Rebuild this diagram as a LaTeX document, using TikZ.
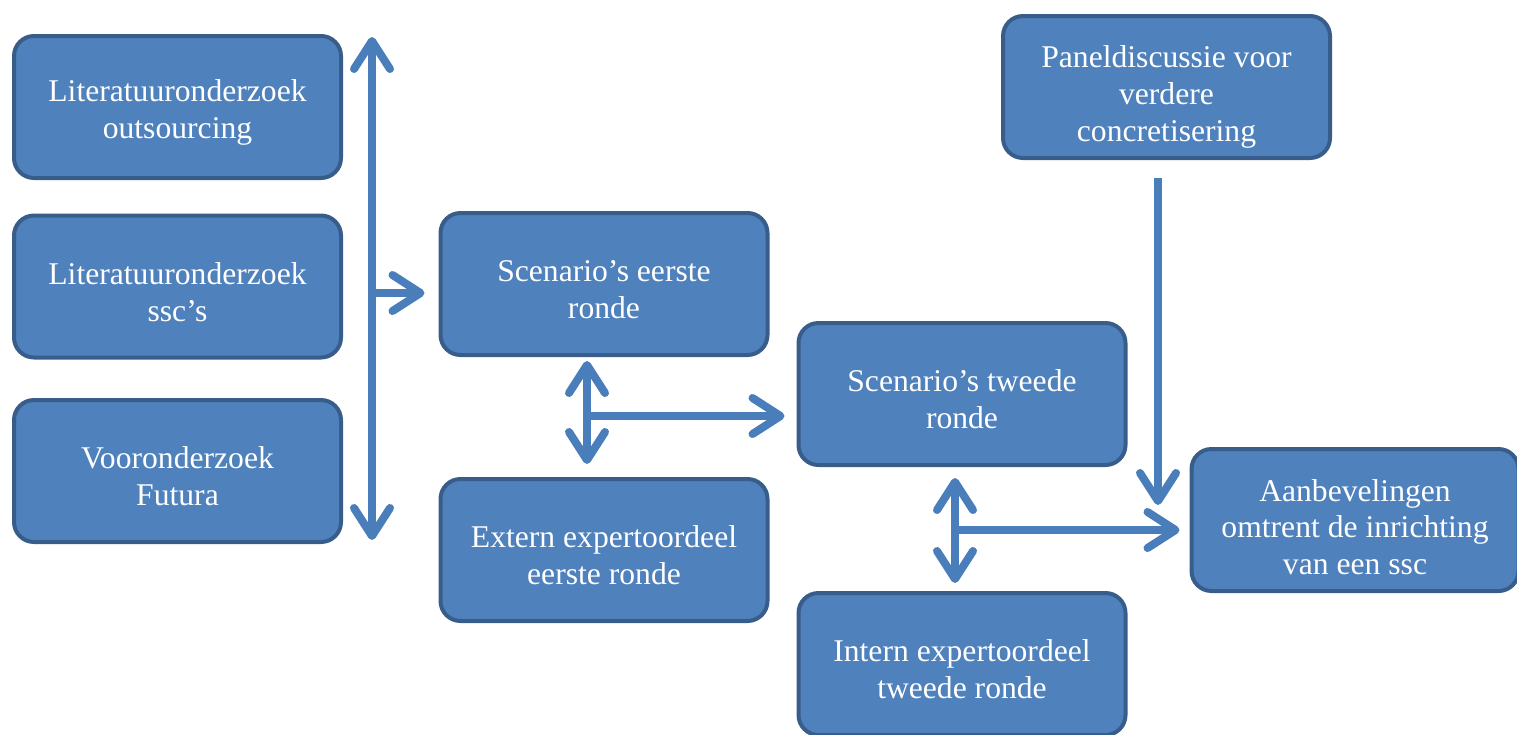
\documentclass[tikz,border=0pt]{standalone}
\usepackage{fontspec}
\setmainfont{Liberation Serif}
\usetikzlibrary{arrows.meta,positioning,calc}
\definecolor{boxblue}{HTML}{4F81BD}
\definecolor{boxedge}{HTML}{385D8A}
\definecolor{arrblue}{HTML}{4A7EBB}

\begin{document}
\begin{tikzpicture}[every node/.style={font=\fontsize{18}{21}\selectfont},
  textdrop/.style={execute at begin node={\rule{0pt}{#1}}},
  stage/.style={rectangle,rounded corners=0.4cm,fill=boxblue,draw=boxedge,line width=0.08cm,
    text=white,align=center,minimum width=6.54cm,minimum height=2.84cm,inner sep=2pt,textdrop=1.39cm},
  tip/.tip={Straight Barb[length=0.56cm,width=0.72cm,line cap=round,line join=round]},
  arr/.style={draw=arrblue,line width=0.16cm,-{tip}},
  arrs/.style={draw=arrblue,line width=0.16cm,{tip}-{tip}}]
\useasboundingbox (0,0) rectangle (30.34,-14.68);
% sources on the left
\node[stage] (lit1) at (3.55,-2.14) {Literatuuronderzoek\\outsourcing};
\node[stage] (lit2) at (3.55,-5.73) {Literatuuronderzoek\\ssc’s};
\node[stage] (voor) at (3.55,-9.42) {Vooronderzoek\\Futura};
% first and second round
\node[stage] (sc1) at (12.08,-5.68) {Scenario’s eerste\\ronde};
\node[stage] (ext) at (12.08,-11.0) {Extern expertoordeel\\eerste ronde};
\node[stage] (sc2) at (19.24,-7.88) {Scenario’s tweede\\ronde};
\node[stage] (int) at (19.24,-13.28) {Intern expertoordeel\\tweede ronde};
\node[stage,textdrop=2.32cm] (panel) at (23.33,-1.74) {Paneldiscussie voor\\verdere\\concretisering};
\node[stage,textdrop=2.2cm] (adv) at (27.1,-10.4) {Aanbevelingen\\omtrent de inrichting\\van een ssc};
% connectors
\coordinate (top) at (7.44,-0.74); \coordinate (bot) at (7.44,-10.8);
\coordinate (mid) at (7.44,-5.86);
\draw[arrs] (top) -- (bot);
\draw[arr,shorten >=0.28cm] (mid) -- (mid -| sc1.west);
\coordinate (j1) at (11.74,-8.32); \coordinate (j2) at (19.1,-10.6);
\draw[arrs,shorten <=0.08cm,shorten >=0.26cm] (j1 |- sc1.south) -- (j1 |- ext.north);
\draw[arr,shorten >=0.24cm] (j1) -- (j1 -| sc2.west);
\draw[arrs,shorten <=0.22cm,shorten >=0.16cm] (j2 |- sc2.south) -- (j2 |- int.north);
\draw[arr,shorten >=0.2cm] (j2) -- (j2 -| adv.west);
\coordinate (pend) at (23.16,-10.1);
\draw[arr,shorten <=0.36cm] (pend |- panel.south) -- (pend);
\end{tikzpicture}
\end{document}
